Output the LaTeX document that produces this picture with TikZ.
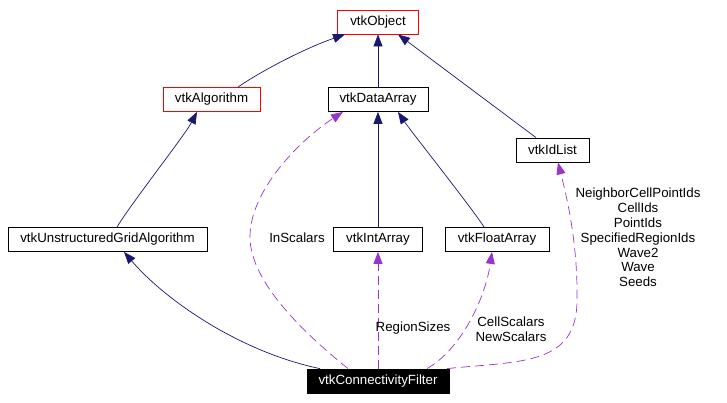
\documentclass[tikz,border=0pt]{standalone}
\usepackage{fontspec}
\setmainfont{Liberation Sans}
\usetikzlibrary{arrows.meta}
\definecolor{navy}{HTML}{191970}
\definecolor{purp}{HTML}{9A32CD}
\begin{document}
\begin{tikzpicture}[x=1pt,y=-1pt,
  box/.style={draw=black,line width=0.8pt,rectangle,minimum height=24pt,inner sep=0pt,font=\fontsize{13.3}{15}\selectfont},
  redbox/.style={box,draw=red},
  mainbox/.style={box,fill=black,text=white},
  inh/.style={draw=navy,line width=0.7pt,-{Triangle[length=12pt,width=9pt]}},
  dep/.style={draw=purp,line width=0.7pt,dash pattern=on 9pt off 5pt,-{Triangle[length=12pt,width=9pt]}},
  lbl/.style={font=\fontsize{13.3}{14.8}\selectfont,align=center,inner sep=0pt}]
\useasboundingbox (0,0) rectangle (727,402);
\node[redbox,minimum width=81pt] (obj) at (378,22) {vtkObject};
\node[redbox,minimum width=97pt] (alg) at (211.5,99.5) {vtkAlgorithm};
\node[box,minimum width=100pt] (da) at (378,99.5) {vtkDataArray};
\node[box,minimum width=73pt] (idl) at (552.5,150) {vtkIdList};
\node[box,minimum width=199pt] (uga) at (107.5,239.5) {vtkUnstructuredGridAlgorithm};
\node[box,minimum width=89pt] (ia) at (378,239.5) {vtkIntArray};
\node[box,minimum width=104pt] (fa) at (497,239.5) {vtkFloatArray};
\node[mainbox,minimum width=142pt] (cf) at (378,381) {vtkConnectivityFilter};
% inheritance
\draw[inh] ([xshift=26.5pt]alg.north) .. controls (255,75) and (300,50) .. ([xshift=-33pt]obj.south);
\draw[inh] (da.north) -- (obj.south);
\draw[inh] ([xshift=-16.5pt]idl.north) -- ([xshift=20pt]obj.south);
\draw[inh] ([xshift=9.5pt]uga.north) .. controls (130,205) and (185,135) .. ([xshift=-14.5pt]alg.south);
\draw[inh] (ia.north) -- (da.south);
\draw[inh] ([xshift=-13pt]fa.north) .. controls (475,212) and (410,130) .. ([xshift=20pt]da.south);
\draw[inh] ([xshift=-58pt]cf.north) .. controls (240,352) and (165,300) .. ([xshift=16.5pt]uga.south);
% usage
\draw[dep] ([xshift=-30pt]cf.north) .. controls (300,330) and (250,280) .. (250,237) .. controls (250,190) and (300,140) .. ([xshift=-35pt]da.south);
\draw[dep] (cf.north) -- (ia.south);
\draw[dep] ([xshift=49pt]cf.north) .. controls (460,350) and (485,300) .. ([xshift=-5pt]fa.south);
\draw[dep] ([xshift=69pt]cf.north) .. controls (520,361) and (577,366) .. (577,300) .. controls (578,240) and (565,190) .. ([xshift=5.5pt]idl.south);
% labels
\node[lbl] (l1) at (297,238) {InScalars};
\node[lbl] (l2) at (413,328) {RegionSizes};
\node[lbl] (l3) at (511,329.5) {CellScalars\\NewScalars};
\node[lbl] (l4) at (638,237.5) {NeighborCellPointIds\\CellIds\\PointIds\\SpecifiedRegionIds\\Wave2\\Wave\\Seeds};
\end{tikzpicture}
\end{document}
